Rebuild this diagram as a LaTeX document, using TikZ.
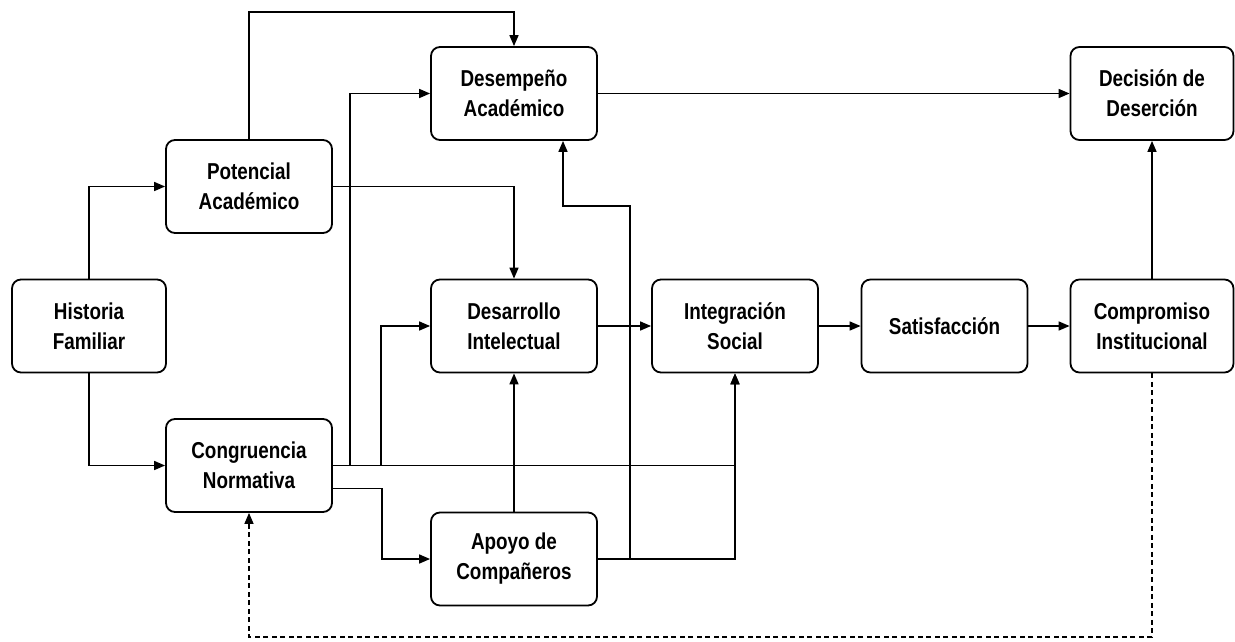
\documentclass[tikz,border=0pt]{standalone}
\usepackage{fontspec}
\setmainfont{Liberation Sans}[FakeStretch=0.82]
\usetikzlibrary{arrows.meta}
\begin{document}
\begin{tikzpicture}[x=1pt,y=-1pt,
  box/.style={draw, line width=1.8pt, rounded corners=9pt, minimum width=166pt,
    minimum height=93pt, inner sep=0pt, align=center,
    font=\fontsize{23}{30}\selectfont\bfseries},
  arr/.style={line width=1.6pt, -{Triangle[length=11pt,width=9pt]}},
  dashedarr/.style={arr, line width=1.4pt, dash pattern=on 5pt off 3.5pt}]
\useasboundingbox (0,0) rectangle (1235,641);
\node[box, minimum width=154pt] (hf) at (89,326) {Historia\\Familiar};
\node[box] (pa) at (249,186.5) {Potencial\\Académico};
\node[box] (cn) at (249,465.5) {Congruencia\\Normativa};
\node[box] (da) at (514,93.5) {Desempeño\\Académico};
\node[box] (di) at (514,326) {Desarrollo\\Intelectual};
\node[box] (ap) at (514,559) {Apoyo de\\Compañeros};
\node[box] (is) at (735,326) {Integración\\Social};
\node[box] (sa) at (944.5,326) {Satisfacción};
\node[box, minimum width=163pt] (co) at (1152,326) {Compromiso\\Institucional};
\node[box, minimum width=163pt] (dd) at (1152,93.5) {Decisión de\\Deserción};

\coordinate (top) at (514,12);
\coordinate (b1) at (350,465.5);
\coordinate (b2) at (381,465.5);
\coordinate (b3) at (630,559);
\coordinate (k3) at (630,206);
\coordinate (dc) at (700,637);

\draw[arr] (hf.north) |- (pa.west);
\draw[arr] (hf.south) |- (cn.west);
\draw[arr] (pa.north) |- (top) -- (da.north);
\draw[arr] (pa.east) -| (di.north);
\draw[arr] (cn.east) -| (is.south);
\draw[arr] (b1) |- (da.west);
\draw[arr] (b2) |- (di.west);
\draw[arr] ([yshift=-23pt]cn.east) -- ++(49,0) |- (ap.west);
\draw[arr] (ap.north) -- (di.south);
\draw[arr] (ap.east) -| (is.south);
\draw[arr] (b3) -- (k3) -| ([xshift=49pt]da.south);
\draw[arr] (di.east) -- (is.west);
\draw[arr] (is.east) -- (sa.west);
\draw[arr] (sa.east) -- (co.west);
\draw[arr] (co.north) -- (dd.south);
\draw[arr] (da.east) -- (dd.west);
\draw[dashedarr] (co.south) |- (dc) -| (cn.south);
\end{tikzpicture}
\end{document}
